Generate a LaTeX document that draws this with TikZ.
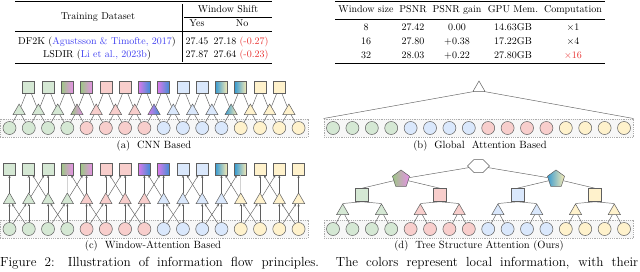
\documentclass[tikz,border=0pt]{standalone}
\usepackage{amsmath,amssymb}
\usepackage{tikz}
\usetikzlibrary{shapes.geometric,shapes.symbols,arrows.meta,fit,backgrounds}

\definecolor{tokgreen}{HTML}{D5E8D4}
\definecolor{tokred}{HTML}{F8CECC}
\definecolor{tokblue}{HTML}{DAE8FC}
\definecolor{tokyellow}{HTML}{FFF2CC}
\definecolor{mixgreen}{HTML}{9CC784}
\definecolor{mixpink}{HTML}{E890E8}
\definecolor{mixmag}{HTML}{D97AEA}
\definecolor{mixblue}{HTML}{3C8ED6}
\definecolor{mixcyan}{HTML}{3A9BD0}
\definecolor{mixsand}{HTML}{FBEDB4}
\definecolor{edgegray}{HTML}{5F5F5F}
\definecolor{citeblue}{HTML}{3D3DF0}
\definecolor{negred}{HTML}{E8302F}

\tikzset{
  tok/.style={circle,draw=edgegray,line width=0.5pt,minimum size=13pt,inner sep=0pt},
  feat/.style={rectangle,draw=edgegray,line width=0.6pt,minimum size=12pt,inner sep=0pt},
  agg/.style={regular polygon,regular polygon sides=3,draw=edgegray,line width=0.5pt,minimum size=14pt,inner sep=0pt},
  penta/.style={regular polygon,regular polygon sides=5,draw=edgegray,line width=0.5pt,minimum size=18pt,inner sep=0pt},
  fillG/.style={fill=tokgreen}, fillR/.style={fill=tokred},
  fillB/.style={fill=tokblue}, fillY/.style={fill=tokyellow},
  shadeGR/.style={left color=mixgreen,right color=mixpink},
  shadeRB/.style={left color=mixmag,right color=mixblue},
  shadeBY/.style={left color=mixcyan,right color=mixsand},
  link/.style={draw=edgegray,line width=0.45pt},
  faintlink/.style={draw=gray!35,line width=0.8pt},
  uplink/.style={link,-{Stealth[length=2.6pt,width=2.2pt]}},
  winbox/.style={draw=gray!65,fill=gray!6,dash pattern=on 1.2pt off 1pt,line width=0.5pt,inner sep=2.5pt},
  cell/.style={inner sep=0pt,text height=6.8pt,text depth=1.9pt},
  heavyrule/.style={line width=0.8pt},
  lightrule/.style={line width=0.5pt},
  subcap/.style={inner sep=0pt,font=\fontsize{10.5}{12}\selectfont},
}

\begin{document}
\begin{tikzpicture}[x=1pt,y=-1pt]
 \useasboundingbox (0,0) rectangle (640,271);

 % left table
 \draw[heavyrule] (15,1.5) -- (272,1.5);
 \node[cell] (lt-data) at (98,17) {Training Dataset};
 \node[cell] (lt-shift) at (228,10) {Window Shift};
 \draw[lightrule] (184,17.5) -- (272,17.5);
 \node[cell] (lt-yes) at (197,24) {Yes};
 \node[cell] (lt-no) at (242,24) {No};
 \draw[lightrule] (15,31) -- (272,31);
 \node[cell] (lt-df2k) at (97,42) {DF2K (\textcolor{citeblue}{Agustsson \& Timofte, 2017})};
 \node[cell] (lt-lsdir) at (97,55) {LSDIR (\textcolor{citeblue}{Li et al., 2023b})};
 \foreach \y/\yes/\no/\drop [count=\r] in {42/27.45/27.18/(-0.27), 55/27.87/27.64/(-0.23)} {
   \node[cell] (lt-yes\r) at (197,\y) {\yes};
   \node[cell] (lt-no\r) at (225,\y) {\no};
   \node[cell,text=negred] (lt-drop\r) at (254,\y) {\drop};
 }
 \draw[lightrule] (182.5,4) -- (182.5,62);
 \draw[heavyrule] (15,63.5) -- (272,63.5);

 % right table
 \draw[heavyrule] (335,1.5) -- (605,1.5);
 \node[cell] (rt-size) at (366,10.5) {Window size};
 \node[cell] (rt-psnr) at (413,10.5) {PSNR};
 \node[cell] (rt-gain) at (457,10.5) {PSNR gain};
 \node[cell] (rt-mem) at (513,10.5) {GPU Mem.};
 \node[cell] (rt-comp) at (573,10.5) {Computation};
 \draw[lightrule] (335,19) -- (605,19);
 \foreach \y/\ws/\ps/\gain/\mem/\comp in {28/8/27.42/0.00/14.63GB/{$\times$1},
     42/16/27.80/{$+$0.38}/17.22GB/{$\times$4},
     56/32/28.03/{$+$0.22}/27.80GB/{\textcolor{negred}{$\times$16}}} {
   \node[cell] (rt-\ws-size) at (366,\y) {\ws};
   \node[cell] (rt-\ws-psnr) at (413,\y) {\ps};
   \node[cell] (rt-\ws-gain) at (457,\y) {\gain};
   \node[cell] (rt-\ws-mem) at (513,\y) {\mem};
   \node[cell] (rt-\ws-comp) at (573,\y) {\comp};
 }
 \draw[heavyrule] (335,63.5) -- (605,63.5);

 % (a) CNN based
 \foreach \s [count=\i] in {fillG,fillG,fillG,fillG,fillR,fillR,fillR,fillR,fillB,fillB,fillB,fillB,fillY,fillY,fillY,fillY}
   \node[tok,\s] (a-c\i) at ({9.5+19.27*(\i-1)},128) {};
 \foreach \s [count=\i] in {fillG,fillG,fillG,shadeGR,fillR,fillR,fillR,shadeRB,fillB,fillB,fillB,shadeBY,fillY,fillY,fillY}
   \node[agg,\s] (a-t\i) at ({9.5+19.27*(\i-0.5)},111) {};
 \foreach \s [count=\i] in {fillG,fillG,shadeGR,shadeGR,fillR,fillR,shadeRB,shadeRB,fillB,fillB,shadeBY,shadeBY,fillY,fillY}
   \node[feat,\s] (a-s\i) at ({9.5+19.27*\i},87) {};
 \begin{scope}[on background layer]
   \node[winbox,fit=(a-c1)(a-c16)] (a-row) {};
 \end{scope}
 \foreach \i in {1,...,15} {
   \pgfmathtruncatemacro\j{\i+1}
   \draw[link] (a-c\i) -- (a-t\i);
   \draw[link] (a-c\j) -- (a-t\i);
 }
 \foreach \i in {1,...,14} {
   \pgfmathtruncatemacro\j{\i+1}
   \draw[link] (a-t\i) -- (a-s\i);
   \draw[link] (a-t\j) -- (a-s\i);
 }
 \node[subcap] (a-cap) at (154,146) {(a)\ \ CNN Based};

 % (b) global attention
 \foreach \s [count=\i] in {fillG,fillG,fillG,fillG,fillB,fillB,fillB,fillB,fillR,fillR,fillR,fillR,fillY,fillY,fillY,fillY}
   \node[tok,\s] (b-c\i) at ({333+19.4*(\i-1)},128) {};
 \begin{scope}[on background layer]
   \node[winbox,fit=(b-c1)(b-c16)] (b-row) {};
 \end{scope}
 \node[agg,fill=white] (b-top) at (479,88) {};
 \draw[link] (b-top.corner 2) -- (b-row.north west);
 \draw[link] (b-top.corner 3) -- (b-row.north east);
 \node[subcap] (b-cap) at (480,146) {(b)\ \ Global\ \ Attention Based};

 % (c) window attention
 \foreach \s [count=\i] in {fillG,fillG,fillG,fillG,fillR,fillR,fillR,fillR,fillB,fillB,fillB,fillB,fillY,fillY,fillY,fillY} {
   \node[tok,\s] (c-c\i) at ({9.5+19.27*(\i-1)},229) {};
   \node[agg,\s] (c-t\i) at ({9.5+19.27*(\i-1)},200) {};
 }
 \foreach \s [count=\i] in {fillG,fillG,fillG,shadeGR,shadeGR,fillR,fillR,shadeRB,shadeRB,fillB,fillB,shadeBY,shadeBY,fillY,fillY,fillY}
   \node[feat,\s] (c-s\i) at ({9.5+19.27*(\i-1)},169) {};
 \begin{scope}[on background layer]
   \node[winbox,fit=(c-c1)(c-c16)] (c-row) {};
 \end{scope}
 \foreach \i in {1,...,16}
   \draw[uplink] (c-c\i) -- (c-t\i);
 \foreach \i in {1,2,3,5,6,7,8,9,10,11,12,14,15,16}
   \draw[uplink] (c-t\i) -- (c-s\i);
 \foreach \i in {4,13}
   \draw[faintlink] (c-t\i) -- (c-s\i);
 \foreach \i in {1,3,...,15} {
   \pgfmathtruncatemacro\j{\i+1}
   \draw[uplink] (c-c\i) -- (c-t\j);
   \draw[uplink] (c-c\j) -- (c-t\i);
 }
 \foreach \i in {2,4,...,14} {
   \pgfmathtruncatemacro\j{\i+1}
   \draw[uplink] (c-t\i) -- (c-s\j);
   \draw[uplink] (c-t\j) -- (c-s\i);
 }
 \node[subcap] (c-cap) at (153,246) {(c)\ \ Window-Attention Based};

 % (d) tree structure attention
 \foreach \s [count=\i] in {fillG,fillG,fillG,fillG,fillR,fillR,fillR,fillR,fillB,fillB,fillB,fillB,fillY,fillY,fillY,fillY}
   \node[tok,\s] (d-c\i) at ({333+19.4*(\i-1)},229) {};
 \foreach \s [count=\i] in {fillG,fillG,fillR,fillR,fillB,fillB,fillY,fillY}
   \node[agg,\s] (d-t\i) at ({333+19.4*(2*\i-1.5)},211) {};
 \foreach \s [count=\i] in {fillG,fillR,fillB,fillY}
   \node[feat,minimum size=13pt,\s] (d-s\i) at ({333+19.4*(4*\i-2.5)},195) {};
 \node[penta,shadeGR] (d-pl) at (401,179) {};
 \node[penta,shadeBY] (d-pr) at (556,179) {};
 \node[signal,signal to=west and east,draw=edgegray,line width=0.5pt,fill=white,
       minimum width=22pt,minimum height=13pt,inner sep=0pt] (d-root) at (478.5,166) {};
 \begin{scope}[on background layer]
   \node[winbox,fit=(d-c1)(d-c16)] (d-row) {};
 \end{scope}
 \draw[link] (d-root) -- (d-pl);
 \draw[link] (d-root) -- (d-pr);
 \draw[link] (d-pl) -- (d-s1.north);
 \draw[link] (d-pl) -- (d-s2.north);
 \draw[link] (d-pr) -- (d-s3.north);
 \draw[link] (d-pr) -- (d-s4.north);
 \foreach \k in {1,...,4} {
   \pgfmathtruncatemacro\ma{2*\k-1}
   \pgfmathtruncatemacro\mb{2*\k}
   \draw[link] (d-s\k.south) -- (d-t\ma.corner 1);
   \draw[link] (d-s\k.south) -- (d-t\mb.corner 1);
 }
 \foreach \m in {1,...,8} {
   \pgfmathtruncatemacro\ca{2*\m-1}
   \pgfmathtruncatemacro\cb{2*\m}
   \draw[link] (d-t\m) -- (d-c\ca);
   \draw[link] (d-t\m) -- (d-c\cb);
 }
 \node[subcap] (d-cap) at (479,246) {(d)\ \ Tree Structure Attention (Ours)};

 % figure caption
 \node[inner sep=0pt,anchor=west,font=\fontsize{13.2}{15}\selectfont] (fig-cap) at (0,263)
   {\makebox[638pt][s]{Figure 2: Illustration of information flow principles. The colors represent local information, with their}};
\end{tikzpicture}
\end{document}
